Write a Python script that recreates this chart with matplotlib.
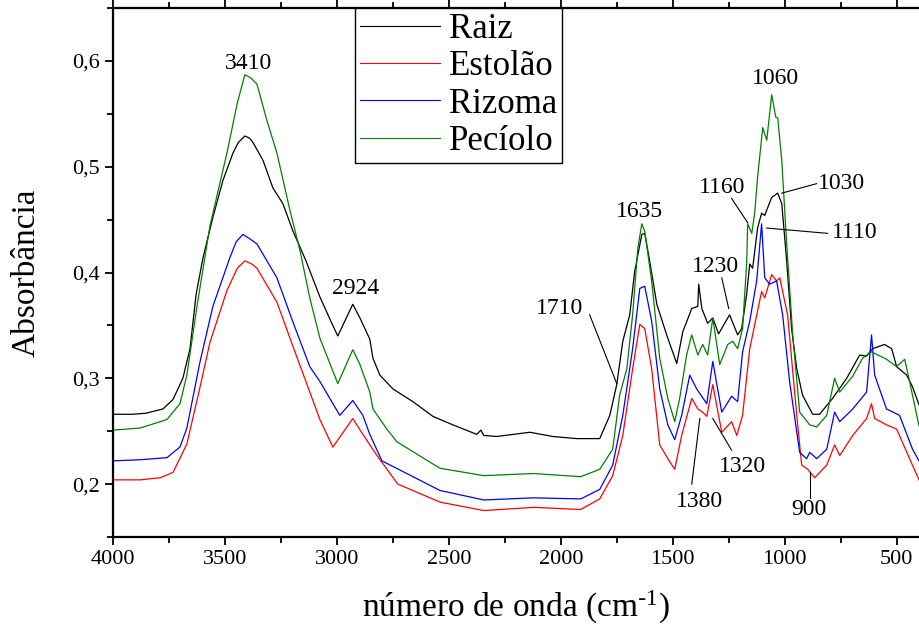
import matplotlib
matplotlib.use("Agg")
import matplotlib.pyplot as plt
from matplotlib.ticker import MultipleLocator, FuncFormatter

plt.rcParams['font.family'] = ['Liberation Serif', 'DejaVu Serif']
plt.rcParams['mathtext.default'] = 'regular'

# wavenumbers (cm-1) and absorbance
raiz_x = [4000, 3911, 3853, 3777, 3732, 3688, 3656, 3629, 3598, 3554, 3509, 3464,
          3440, 3411, 3390, 3375, 3330, 3286, 3241, 3196, 3138, 3076, 3027, 2996, 2929, 2897,
          2853, 2839, 2808, 2750, 2661, 2571, 2482, 2375, 2357, 2344, 2286, 2138,
          2036, 1929, 1826, 1781, 1750, 1723, 1692, 1670, 1638, 1625, 1603, 1571,
          1527, 1482, 1455, 1415, 1388, 1384, 1370, 1344, 1321, 1295, 1246, 1210,
          1192, 1170, 1156, 1143, 1121, 1103, 1089, 1058, 1031, 1013, 991, 969,
          946, 920, 875, 844, 786, 723, 665, 634, 607, 554, 522, 500, 455, 429, 400]
raiz_y = [0.266, 0.266, 0.267, 0.271, 0.280, 0.300, 0.328, 0.379, 0.414, 0.452, 0.487, 0.513,
          0.523, 0.529, 0.527, 0.523, 0.506, 0.480, 0.465, 0.439, 0.411, 0.377, 0.354, 0.340, 0.370, 0.357,
          0.337, 0.319, 0.303, 0.290, 0.278, 0.264, 0.256, 0.247, 0.251, 0.246, 0.245, 0.249,
          0.245, 0.243, 0.243, 0.265, 0.294, 0.335, 0.360, 0.401, 0.436, 0.437, 0.411, 0.370,
          0.341, 0.314, 0.344, 0.366, 0.368, 0.389, 0.366, 0.352, 0.357, 0.342, 0.360, 0.341,
          0.347, 0.379, 0.408, 0.404, 0.442, 0.456, 0.454, 0.471, 0.475, 0.465, 0.411, 0.347,
          0.309, 0.284, 0.266, 0.266, 0.281, 0.300, 0.322, 0.321, 0.328, 0.332, 0.328, 0.311, 0.303, 0.292, 0.275]

estolao_x = [4000, 3879, 3790, 3732, 3670, 3612, 3567, 3491, 3445, 3411, 3380, 3357, 3268, 3196,
             3121, 3076, 3018, 2929, 2884, 2821, 2728, 2540, 2344, 2121, 1911, 1826,
             1768, 1723, 1679, 1647, 1625, 1594, 1558, 1513, 1491, 1460, 1415, 1388,
             1366, 1348, 1321, 1281, 1237, 1214, 1188, 1156, 1103, 1089, 1058, 1036,
             1022, 987, 946, 924, 897, 866, 812, 777, 754, 696, 634, 612, 598, 545,
             500, 442, 400]
estolao_y = [0.204, 0.204, 0.206, 0.211, 0.238, 0.291, 0.334, 0.383, 0.404, 0.411, 0.408, 0.404, 0.372, 0.330,
             0.287, 0.261, 0.235, 0.262, 0.247, 0.227, 0.200, 0.183, 0.175, 0.178, 0.176, 0.186,
             0.208, 0.246, 0.309, 0.351, 0.347, 0.309, 0.237, 0.221, 0.214, 0.246, 0.281, 0.271,
             0.268, 0.264, 0.294, 0.249, 0.259, 0.246, 0.265, 0.328, 0.382, 0.376, 0.398, 0.392,
             0.395, 0.360, 0.265, 0.218, 0.214, 0.206, 0.218, 0.237, 0.227, 0.246, 0.262, 0.276, 0.262, 0.256,
             0.252, 0.224, 0.204]

rizoma_x = [4000, 3879, 3759, 3701, 3670, 3612, 3554, 3478, 3450, 3420, 3390, 3357, 3268, 3196,
            3121, 3076, 2987, 2929, 2884, 2853, 2799, 2540, 2344, 2121, 1911, 1826,
            1768, 1723, 1679, 1647, 1625, 1594, 1558, 1522, 1491, 1460, 1424, 1393,
            1348, 1321, 1281, 1237, 1210, 1188, 1156, 1125, 1103, 1089, 1067, 1036,
            1009, 978, 933, 902, 888, 857, 812, 777, 754, 696, 634, 612, 598, 545,
            487, 429, 400]
rizoma_y = [0.222, 0.223, 0.225, 0.235, 0.253, 0.315, 0.368, 0.414, 0.429, 0.436, 0.432, 0.427, 0.395, 0.353,
            0.311, 0.297, 0.265, 0.279, 0.265, 0.247, 0.222, 0.194, 0.185, 0.187, 0.186, 0.195,
            0.218, 0.265, 0.328, 0.385, 0.387, 0.354, 0.290, 0.256, 0.242, 0.265, 0.303, 0.290,
            0.276, 0.316, 0.268, 0.283, 0.278, 0.325, 0.354, 0.392, 0.446, 0.395, 0.389, 0.392,
            0.360, 0.297, 0.230, 0.224, 0.230, 0.224, 0.233, 0.268, 0.259, 0.271, 0.287, 0.341, 0.303, 0.271,
            0.265, 0.233, 0.222]

peciolo_x = [4000, 3879, 3759, 3701, 3670, 3625, 3567, 3491, 3445, 3411, 3385, 3357, 3313, 3268,
             3210, 3165, 3121, 3076, 2996, 2929, 2897, 2853, 2839, 2777, 2732, 2540,
             2344, 2121, 1911, 1826, 1768, 1737, 1705, 1679, 1656, 1638, 1625, 1594,
             1558, 1522, 1491, 1469, 1438, 1415, 1388, 1366, 1344, 1321, 1290, 1254,
             1232, 1210, 1188, 1170, 1165, 1147, 1134, 1121, 1098, 1080, 1058, 1040,
             1031, 1013, 991, 964, 933, 888, 857, 812, 777, 754, 696, 652, 612, 545,
             500, 464, 442, 400]
peciolo_y = [0.251, 0.253, 0.261, 0.276, 0.303, 0.368, 0.444, 0.513, 0.560, 0.587, 0.584, 0.578, 0.544, 0.513,
             0.459, 0.421, 0.376, 0.338, 0.295, 0.327, 0.313, 0.287, 0.271, 0.252, 0.240, 0.215,
             0.208, 0.210, 0.207, 0.214, 0.233, 0.284, 0.309, 0.360, 0.423, 0.446, 0.439, 0.392,
             0.319, 0.281, 0.259, 0.281, 0.322, 0.341, 0.322, 0.332, 0.322, 0.357, 0.313, 0.332,
             0.335, 0.328, 0.347, 0.408, 0.446, 0.437, 0.456, 0.490, 0.537, 0.525, 0.568, 0.547,
             0.546, 0.506, 0.427, 0.341, 0.268, 0.256, 0.254, 0.265, 0.300, 0.287, 0.302, 0.319, 0.325, 0.318,
             0.311, 0.318, 0.297, 0.255]

fig = plt.figure(figsize=(9.2, 6.29), dpi=100)
ax = fig.add_axes([113 / 920, 92 / 629, 806 / 920, 529 / 629])

ax.plot(raiz_x, raiz_y, color='black', lw=0.9, label='Raiz')
ax.plot(estolao_x, estolao_y, color='#ff0000', lw=0.9, label='Estolão')
ax.plot(rizoma_x, rizoma_y, color='#0000ff', lw=0.9, label='Rizoma')
ax.plot(peciolo_x, peciolo_y, color='#008000', lw=0.9, label='Pecíolo')

ax.set_xlim(4000, 400)
ax.set_ylim(0.15, 0.65)
ax.xaxis.set_major_locator(MultipleLocator(500))
ax.xaxis.set_minor_locator(MultipleLocator(250))
ax.yaxis.set_major_locator(MultipleLocator(0.1))
ax.yaxis.set_minor_locator(MultipleLocator(0.05))
ax.yaxis.set_major_formatter(FuncFormatter(lambda v, p: ('%.1f' % v).replace('.', ',')))
ax.tick_params(which='both', direction='out', width=1.3, labelsize=16, top=True)
ax.tick_params(which='major', length=6)
ax.tick_params(which='minor', length=4)
ax.spines['right'].set_visible(False)
for s in ['left', 'bottom', 'top']:
    ax.spines[s].set_linewidth(1.6)

ax.set_xlabel(r'número de onda (cm$^{\text{-}1}$)', fontsize=24, labelpad=14)
ax.set_ylabel('Absorbância', fontsize=24, labelpad=22)

# band labels
fs = 17
ax.text(3393, 0.598, '3410', fontsize=fs, ha='center', va='center')
ax.text(2915, 0.385, '2924', fontsize=fs, ha='center', va='center')
ax.text(2004, 0.366, '1710', fontsize=fs, ha='center', va='center')
ax.text(1647, 0.458, '1635', fontsize=fs, ha='center', va='center')
ax.text(1308, 0.406, '1230', fontsize=fs, ha='center', va='center')
ax.text(1281, 0.480, '1160', fontsize=fs, ha='center', va='center')
ax.text(1040, 0.583, '1060', fontsize=fs, ha='center', va='center')
ax.text(746, 0.484, '1030', fontsize=fs, ha='center', va='center')
ax.text(688, 0.438, '1110', fontsize=fs, ha='center', va='center')
ax.text(1188, 0.217, '1320', fontsize=fs, ha='center', va='center')
ax.text(1380, 0.184, '1380', fontsize=fs, ha='center', va='center')
ax.text(893, 0.176, '900', fontsize=fs, ha='center', va='center')

lk = dict(color='black', lw=0.8)
ax.plot([1871, 1750], [0.360, 0.295], **lk)
ax.plot([1281, 1250], [0.395, 0.366], **lk)
ax.plot([1237, 1165], [0.470, 0.447], **lk)
ax.plot([857, 1013], [0.484, 0.475], **lk)
ax.plot([808, 1080], [0.437, 0.442], **lk)
ax.plot([1237, 1321], [0.232, 0.262], **lk)
ax.plot([1415, 1379], [0.200, 0.262], **lk)
ax.plot([888, 888], [0.187, 0.211], **lk)

leg = ax.legend(loc='upper left', bbox_to_anchor=(0.300, 1.0), borderaxespad=0,
                fontsize=25, fancybox=False, edgecolor='black', framealpha=1,
                handlelength=2.3, labelspacing=0.12, borderpad=0.15, handletextpad=0.25)
leg.get_frame().set_linewidth(1.0)
for ln in leg.get_lines():
    ln.set_linewidth(0.8)

plt.savefig('out.png', dpi=100)
